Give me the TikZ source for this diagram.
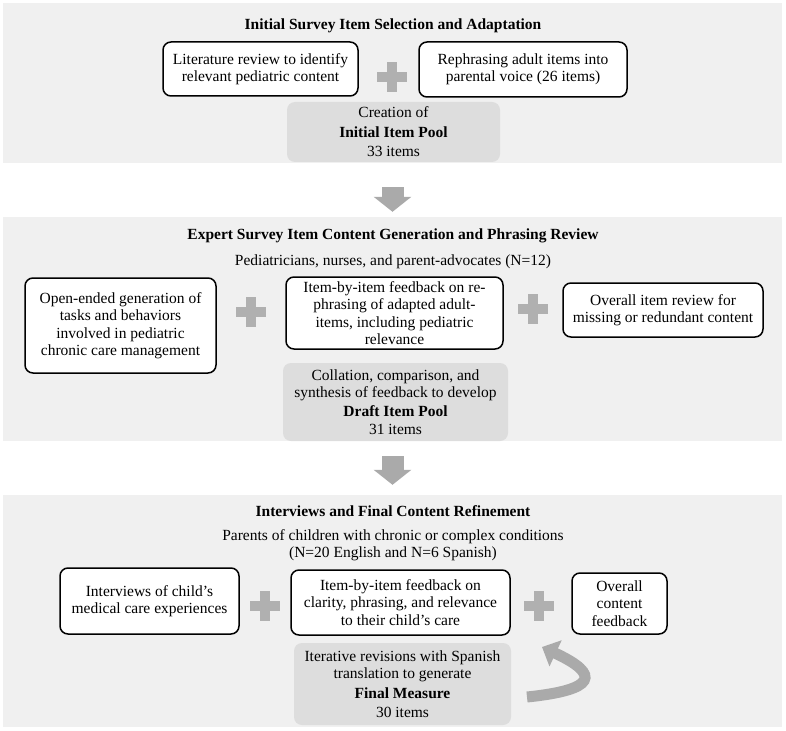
\documentclass[tikz,border=0pt]{standalone}
\usepackage{fontspec}
\setmainfont{Liberation Serif}
\usetikzlibrary{shapes.misc,arrows.meta,positioning}
\usepackage{xcolor}
\definecolor{panelgray}{HTML}{F0F0F0}
\definecolor{poolgray}{HTML}{DDDDDD}
\definecolor{plusgray}{HTML}{B0B0B0}
\definecolor{arrowgray}{HTML}{AAAAAA}

\begin{document}
\begin{tikzpicture}[x=1pt, y=-1pt, every node/.style={font=\fontsize{15.5}{17.5}\selectfont}]
    \tikzstyle{panel} = [rectangle, fill=panelgray, minimum width=779pt, inner sep=0pt]
    \tikzstyle{heading} = [font=\fontsize{15.5}{17.5}\selectfont\bfseries]
    \tikzstyle{task} = [rectangle, draw, line width=1.5pt, rounded corners=8pt, fill=white, align=center, inner sep=2pt]
    \tikzstyle{pool} = [rectangle, fill=poolgray, rounded corners=8pt, align=center, inner sep=2pt]
    \tikzstyle{plus} = [cross out, draw=plusgray, line width=10pt, minimum size=21pt, inner sep=0pt, outer sep=0pt, rotate=45]
    \tikzstyle{downarrow} = [line width=22pt, arrowgray, -{Triangle[width=37pt, length=15pt]}]
    \useasboundingbox (0,0) rectangle (786,730);

    % Hintergrundflaechen
    \node[panel, minimum height=160pt] (stage1) at (392.5,83) {};
    \node[panel, minimum height=224pt] (stage2) at (392.5,329) {};
    \node[panel, minimum height=232pt] (stage3) at (392.5,611) {};

    % Stufe 1
    \node[heading] (title1) at (393,26) {Initial Survey Item Selection and Adaptation};
    \node[task, minimum width=195pt, minimum height=54pt] (lit) at (260.5,69) {Literature review to identify\\relevant pediatric content};
    \node[plus] (plus1) at (392,77) {};
    \node[task, minimum width=208pt, minimum height=55pt] (rephrase) at (523,69.5) {Rephrasing adult items into\\parental voice (26 items)};
    \node[pool, minimum width=213pt, minimum height=60pt] (pool1) at (393.5,132) {Creation of\\[2pt]\textbf{Initial Item Pool}\\[2pt]33 items};

    % Stufe 2
    \node[heading] (title2) at (393,236) {Expert Survey Item Content Generation and Phrasing Review};
    \node (experts) at (393,262) {Pediatricians, nurses, and parent-advocates (N=12)};
    \node[task, minimum width=191pt, minimum height=95pt] (openended) at (120.5,325.5) {Open-ended generation of\\tasks and behaviors\\involved in pediatric\\chronic care management};
    \node[plus] (plus2a) at (251,312) {};
    \node[task, minimum width=217pt, minimum height=72pt] (feedback2) at (394.5,313) {Item-by-item feedback on re-\\phrasing of adapted adult-\\items, including pediatric\\relevance};
    \node[plus] (plus2b) at (533,309) {};
    \node[task, minimum width=200pt, minimum height=54pt] (overall2) at (663,310) {Overall item review for\\missing or redundant content};
    \node[pool, minimum width=225pt, minimum height=78pt] (pool2) at (395.5,402) {Collation, comparison, and\\synthesis of feedback to develop\\[1pt]\textbf{Draft Item Pool}\\[1pt]31 items};

    % Stufe 3
    \node[heading] (title3) at (393,511) {Interviews and Final Content Refinement};
    \node[align=center] (parents) at (393,545) {Parents of children with chronic or complex conditions\\(N=20 English and N=6 Spanish)};
    \node[task, minimum width=179pt, minimum height=66pt] (interviews) at (149.5,601) {Interviews of child's\\medical care experiences};
    \node[plus] (plus3a) at (265,606) {};
    \node[task, minimum width=219pt, minimum height=65pt] (feedback3) at (400.5,602.5) {Item-by-item feedback on\\clarity, phrasing, and relevance\\to their child's care};
    \node[plus] (plus3b) at (539,606) {};
    \node[task, minimum width=95pt, minimum height=61pt] (overall3) at (619.5,603.5) {Overall\\content\\feedback};
    \node[pool, minimum width=217pt, minimum height=82pt] (pool3) at (402.5,684) {Iterative revisions with Spanish\\translation to generate\\[2pt]\textbf{Final Measure}\\[2pt]30 items};

    % Pfeile
    \draw[downarrow, shorten <=24pt, shorten >=5pt] (stage1) -- (stage2);
    \draw[downarrow, shorten <=15pt, shorten >=10pt] (stage2) -- (stage3);

    \coordinate (loopstart) at (527,697);
    \coordinate (looptip) at (542,647);
    \draw[line width=11pt, arrowgray, -{Triangle[width=28pt, length=15pt]}] (loopstart) .. controls (595,690) and (602,675) .. (looptip);
\end{tikzpicture}
\end{document}
